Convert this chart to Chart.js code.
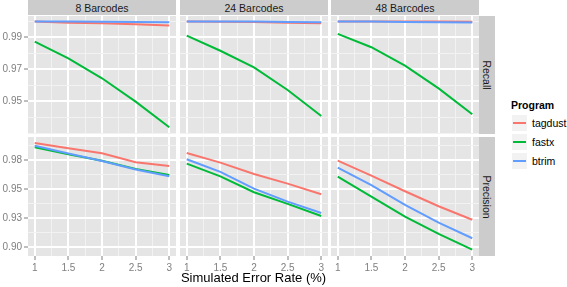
<!DOCTYPE html>
<html>
<head>
<meta charset="utf-8">
<script src="https://cdn.jsdelivr.net/npm/chart.js@4.4.0/dist/chart.umd.min.js"></script>
<style>
    body { margin: 0; background: #fff; }
    #wrap {
        position: relative;
        width: 567px;
        height: 287px;
        overflow: hidden;
        font-family: "Liberation Sans", Arial, sans-serif;
    }
    #wrap canvas { position: absolute; }
    .strip {
        position: absolute;
        background: #CCCCCC;
        color: #1A1A1A;
        font-size: 10.5px;
        display: flex;
        align-items: center;
        justify-content: center;
        white-space: nowrap;
    }
    .strip-y span { display: inline-block; transform: rotate(90deg); }
    .legend-title { position: absolute; left: 511px; top: 99px; font-size: 10.5px; font-weight: bold; color: #000; }
    .legend-key {
        position: absolute;
        left: 511px;
        width: 17px;
        height: 18px;
        box-sizing: border-box;
        background: #F2F2F2;
        border: 1px solid #fff;
    }
    .legend-key div { position: absolute; left: 1px; right: 1px; top: 7px; height: 2px; }
    .legend-label { position: absolute; left: 532px; font-size: 10.5px; color: #000; line-height: 18px; }
    .x-title {
        position: absolute;
        left: 28px;
        width: 451px;
        top: 270px;
        text-align: center;
        font-size: 13px;
        color: #000;
    }
</style>
</head>
<body>
<div id="wrap"></div>
<script>
// x values and facet labels
const errorRates = [1, 1.5, 2, 2.5, 3];
const barcodeSets = ['8 Barcodes', '24 Barcodes', '48 Barcodes'];
const metrics = ['Recall', 'Precision'];
const programs = ['tagdust', 'fastx', 'btrim'];
const programColors = ['#F8766D', '#00BA38', '#619CFF'];

// recall, one row per barcode set (8, 24, 48)
const recallTagdust = [
    [0.9998, 0.9991, 0.9988, 0.9981, 0.9973],
    [0.9999, 0.9997, 0.9995, 0.9991, 0.9988],
    [0.9999, 0.9999, 0.9998, 0.9998, 0.9997]
];
const recallFastx = [
    [0.9873, 0.9769, 0.9644, 0.9498, 0.9338],
    [0.9910, 0.9816, 0.9712, 0.9571, 0.9408],
    [0.9921, 0.9838, 0.9723, 0.9581, 0.9419]
];
const recallBtrim = [
    [0.9999, 0.9998, 0.9997, 0.9995, 0.9994],
    [0.9999, 0.9999, 0.9998, 0.9996, 0.9994],
    [0.9999, 0.9998, 0.9996, 0.9994, 0.9993]
];

// precision, one row per barcode set (8, 24, 48)
const precisionTagdust = [
    [0.9897, 0.9851, 0.9808, 0.9730, 0.9698],
    [0.9810, 0.9727, 0.9629, 0.9546, 0.9454],
    [0.9744, 0.9615, 0.9480, 0.9351, 0.9235]
];
const precisionFastx = [
    [0.9859, 0.9800, 0.9744, 0.9673, 0.9621],
    [0.9718, 0.9609, 0.9472, 0.9371, 0.9267],
    [0.9606, 0.9434, 0.9261, 0.9112, 0.8977]
];
const precisionBtrim = [
    [0.9873, 0.9805, 0.9741, 0.9668, 0.9609],
    [0.9756, 0.9647, 0.9503, 0.9391, 0.9293],
    [0.9684, 0.9534, 0.9362, 0.9210, 0.9075]
];

// ticks (major ones get labels, minor ones only a thin grid line)
const xMajorTicks = [1, 1.5, 2, 2.5, 3];
const xTickLabels = ['1', '1.5', '2', '2.5', '3'];
const xMinorTicks = [1.25, 1.75, 2.25, 2.75];
const recallMajorTicks = [0.95, 0.97, 0.99];
const recallTickLabels = ['0.95', '0.97', '0.99'];
const recallMinorTicks = [0.93, 0.94, 0.96, 0.98, 1.00];
const precisionMajorTicks = [0.900, 0.925, 0.950, 0.975];
const precisionTickLabels = ['0.90', '0.93', '0.95', '0.98'];
const precisionMinorTicks = [0.9125, 0.9375, 0.9625, 0.9875];

const xLimits = [0.9, 3.1];
const yLimits = { Recall: [0.9296, 1.0033], Precision: [0.8922, 0.9948] };

// layout of the facet grid
const panelLefts = [28, 180, 331];
const panelWidth = 148;
const panelTops = [16, 137];
const panelHeights = [118, 119];
const yAxisWidth = 28;
const xAxisHeight = 22;

const wrap = document.getElementById('wrap');

function buildTicks(major, labels, minor) {
    const ticks = major.map((v, i) => ({ value: v, text: labels[i], isMajor: true }))
        .concat(minor.map(v => ({ value: v, text: '', isMajor: false })));
    return ticks.sort((a, b) => a.value - b.value);
}

const panelBackground = {
    id: 'panelBackground',
    beforeDraw(chart) {
        const { ctx, chartArea: a } = chart;
        ctx.save();
        ctx.fillStyle = '#E5E5E5';
        ctx.fillRect(a.left, a.top, a.right - a.left, a.bottom - a.top);
        ctx.restore();
    }
};

function gridOptions(showTicks) {
    return {
        color: ctx => ctx.tick && ctx.tick.isMajor ? '#FFFFFF' : '#F2F2F2',
        lineWidth: ctx => ctx.tick && ctx.tick.isMajor ? 2 : 1,
        drawTicks: showTicks,
        tickLength: 4,
        tickWidth: 1,
        tickColor: ctx => ctx.tick && ctx.tick.isMajor ? '#7F7F7F' : 'rgba(0,0,0,0)'
    };
}

function seriesFor(metric) {
    return metric === 'Recall'
        ? [recallTagdust, recallFastx, recallBtrim]
        : [precisionTagdust, precisionFastx, precisionBtrim];
}

function createPanel(row, col) {
    const metric = metrics[row];
    const leftAxis = col === 0 ? yAxisWidth : 0;
    const bottomAxis = row === metrics.length - 1 ? xAxisHeight : 0;

    const canvas = document.createElement('canvas');
    canvas.width = panelWidth + leftAxis;
    canvas.height = panelHeights[row] + bottomAxis;
    canvas.style.left = (panelLefts[col] - leftAxis) + 'px';
    canvas.style.top = panelTops[row] + 'px';
    canvas.style.width = canvas.width + 'px';
    canvas.style.height = canvas.height + 'px';
    wrap.appendChild(canvas);

    const series = seriesFor(metric);
    // btrim drawn on top, then fastx, then tagdust (ggplot order)
    const datasets = programs.map((name, p) => ({
        label: name,
        data: errorRates.map((x, i) => ({ x: x, y: series[p][col][i] })),
        borderColor: programColors[p],
        backgroundColor: programColors[p],
        borderWidth: 2,
        pointRadius: 0,
        tension: 0,
        order: programs.length - p
    }));

    const yTicks = metric === 'Recall'
        ? buildTicks(recallMajorTicks, recallTickLabels, recallMinorTicks)
        : buildTicks(precisionMajorTicks, precisionTickLabels, precisionMinorTicks);
    const xTicks = buildTicks(xMajorTicks, xTickLabels, xMinorTicks);

    new Chart(canvas.getContext('2d'), {
        type: 'line',
        data: { datasets: datasets },
        options: {
            responsive: false,
            animation: false,
            events: [],
            layout: { padding: 0 },
            plugins: {
                legend: { display: false },
                tooltip: { enabled: false }
            },
            scales: {
                x: {
                    type: 'linear',
                    min: xLimits[0],
                    max: xLimits[1],
                    border: { display: false },
                    grid: gridOptions(bottomAxis > 0),
                    afterBuildTicks: scale => { scale.ticks = xTicks.map(t => ({ ...t })); },
                    afterFit: scale => {
                        scale.height = bottomAxis;
                        scale.paddingLeft = 0;
                        scale.paddingRight = 0;
                    },
                    ticks: {
                        display: bottomAxis > 0,
                        autoSkip: false,
                        maxRotation: 0,
                        padding: 2,
                        color: '#7F7F7F',
                        font: { family: 'Liberation Sans', size: 10 },
                        callback: (value, index, ticks) => ticks[index].text
                    }
                },
                y: {
                    type: 'linear',
                    min: yLimits[metric][0],
                    max: yLimits[metric][1],
                    border: { display: false },
                    grid: gridOptions(leftAxis > 0),
                    afterBuildTicks: scale => { scale.ticks = yTicks.map(t => ({ ...t })); },
                    afterFit: scale => {
                        scale.width = leftAxis;
                        scale.paddingTop = 0;
                        scale.paddingBottom = 0;
                    },
                    ticks: {
                        display: leftAxis > 0,
                        autoSkip: false,
                        padding: 2,
                        color: '#7F7F7F',
                        font: { family: 'Liberation Sans', size: 10 },
                        callback: (value, index, ticks) => ticks[index].text
                    }
                }
            }
        },
        plugins: [panelBackground]
    });
}

function addDiv(className, style, html) {
    const div = document.createElement('div');
    div.className = className;
    Object.assign(div.style, style);
    div.innerHTML = html;
    wrap.appendChild(div);
    return div;
}

// facet strips
barcodeSets.forEach((label, col) => {
    addDiv('strip', { left: panelLefts[col] + 'px', top: '0px', width: panelWidth + 'px', height: '15px' }, label);
});
metrics.forEach((label, row) => {
    addDiv('strip strip-y', {
        left: (panelLefts[2] + panelWidth) + 'px',
        top: panelTops[row] + 'px',
        width: '16px',
        height: panelHeights[row] + 'px'
    }, '<span>' + label + '</span>');
});

for (let row = 0; row < metrics.length; row++) {
    for (let col = 0; col < barcodeSets.length; col++) {
        createPanel(row, col);
    }
}

// legend
addDiv('legend-title', {}, 'Program');
programs.forEach((name, p) => {
    const top = 114 + p * 19;
    const key = addDiv('legend-key', { top: top + 'px' }, '');
    const line = document.createElement('div');
    line.style.background = programColors[p];
    key.appendChild(line);
    addDiv('legend-label', { top: top + 'px' }, name);
});

addDiv('x-title', {}, 'Simulated Error Rate (%)');
</script>
</body>
</html>
